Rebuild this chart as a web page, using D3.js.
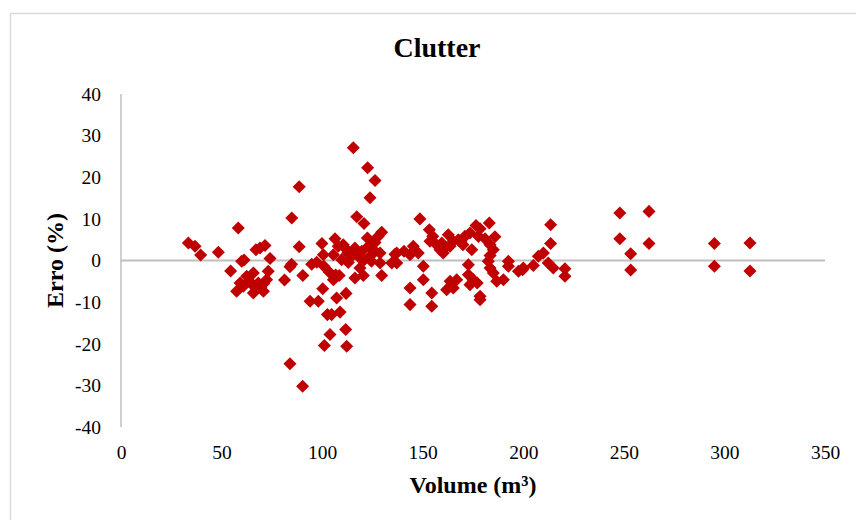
<!DOCTYPE html>
<html>
<head>
<meta charset="utf-8">
<script src="https://cdn.jsdelivr.net/npm/d3@7/dist/d3.min.js"></script>
<style>
  html, body { margin: 0; padding: 0; background: #ffffff; }
  svg { display: block; }
  text { font-family: "Liberation Serif", "Times New Roman", serif; fill: #000; }
</style>
</head>
<body>
<svg id="chart" width="856" height="520"></svg>
<script>
// ---- data ----
const title = "Clutter";
const xTitle = "Volume (m³)";
const yTitle = "Erro (%)";
const xTicks = [0, 50, 100, 150, 200, 250, 300, 350];
const yTicks = [-40, -30, -20, -10, 0, 10, 20, 30, 40];

const volume = [
  33.5, 36.8, 39.6, 48.4, 54.5, 57.5, 58.3, 59.2, 60.0, 60.8,
  61.2, 62.5, 63.8, 65.8, 65.8, 66.0, 67.1, 68.3, 69.1, 69.5,
  70.8, 71.0, 71.6, 72.4, 73.2, 74.1, 81.3, 84.0, 84.8, 84.9,
  84.0, 88.6, 88.6, 90.4, 90.3, 94.8, 94.0, 97.3, 98.1, 99.9,
  100.3, 100.6, 100.9, 101.1, 102.6, 103.6, 103.9, 104.7, 105.6, 105.6,
  106.4, 106.7, 107.2, 108.0, 108.5, 108.9, 109.7, 110.5, 111.7, 111.9,
  112.2, 112.2, 112.7, 113.0, 114.7, 115.5, 116.3, 116.3, 117.2, 117.5,
  118.8, 118.8, 119.7, 120.5, 120.8, 121.0, 122.5, 122.6, 123.0, 123.8,
  123.8, 124.5, 126.3, 126.3, 126.3, 127.9, 128.8, 128.8, 129.6, 129.6,
  134.6, 136.2, 137.1, 137.1, 140.7, 143.7, 143.7, 143.7, 145.3, 147.8,
  148.6, 150.3, 150.3, 153.3, 153.6, 154.5, 154.5, 155.0, 156.9, 158.6,
  159.5, 160.2, 161.0, 161.9, 162.7, 163.6, 163.6, 165.2, 165.2, 166.9,
  167.7, 169.0, 170.0, 171.0, 172.7, 172.7, 173.5, 173.5, 174.4, 175.2,
  176.5, 177.1, 177.7, 178.5, 178.5, 178.5, 181.0, 182.6, 183.1, 183.5,
  183.5, 183.5, 185.1, 185.1, 185.9, 186.8, 190.1, 192.6, 192.6, 197.6,
  199.7, 200.0, 205.0, 207.5, 210.0, 212.4, 213.6, 213.6, 214.9, 220.7,
  220.7, 248.0, 248.0, 253.4, 253.4, 262.5, 262.5, 295.0, 295.0, 312.7,
  312.7
];
const error = [
  4.2, 3.4, 1.3, 2.0, -2.5, -7.4, 7.8, -5.4, -0.2, -6.2,
  0.1, -3.8, -4.9, -3.0, -7.8, -6.2, 2.6, -5.4, 3.0, -6.5,
  -7.4, -5.5, 3.6, -4.6, -2.6, 0.5, -4.7, -1.5, -0.9, 10.2,
  -24.8, 17.7, 3.3, -3.6, -30.2, -0.9, -9.8, -0.4, -9.8, 4.1,
  -6.8, 1.4, -1.4, -20.4, -13.0, -2.8, -17.8, -13.0, -4.6, 1.4,
  5.2, -3.5, -9.0, 3.4, -3.6, -12.4, 0.2, 3.8, -16.6, -7.9,
  -20.6, 2.6, 1.8, -0.5, 1.0, 27.1, 3.0, -4.2, 10.5, 1.8,
  0.6, -1.8, 2.2, -3.6, 8.9, 0.2, 5.4, 22.3, 3.4, 15.1,
  1.0, -0.2, 19.2, 4.3, 2.2, 5.8, 1.8, -0.6, 6.8, -3.6,
  -0.6, 1.5, 1.8, -0.6, 2.2, 1.4, -6.6, -10.6, 3.4, 1.8,
  10.0, -1.4, -4.6, 7.4, 4.6, -7.8, -11.0, 5.8, 3.8, 2.6,
  4.2, 1.8, 3.0, -7.0, 6.2, 3.4, -5.0, 4.6, -6.6, -4.6,
  5.0, 4.6, 3.8, 5.8, -1.0, -3.4, 6.6, -5.8, 2.6, -4.6,
  8.4, -5.4, 5.8, 7.6, -8.6, -9.4, 5.2, -0.2, 9.0, 3.8,
  -1.8, 1.2, 2.6, -3.0, 5.7, -5.0, -4.6, -0.2, -1.4, -2.6,
  -2.2, -1.8, -1.2, 1.0, 1.8, -0.6, 8.6, 4.1, -1.8, -2.0,
  -3.8, 11.4, 5.2, 1.6, -2.3, 11.8, 4.1, 4.1, -1.4, 4.2,
  -2.5
];

// ---- chart ----
const svg = d3.select("#chart");
const x = d3.scaleLinear().domain([0, 350]).range([121, 825]);
const y = d3.scaleLinear().domain([-40, 40]).range([427, 94]);
const plainFormat = d => String(d);   // hyphen-minus, as in the reference

// outer frame
svg.append("rect")
  .attr("x", 10.5).attr("y", 13.5)
  .attr("width", 860).attr("height", 530)
  .attr("fill", "#fff").attr("stroke", "#D9D9D9").attr("stroke-width", 1.5);

// title
svg.append("text")
  .attr("x", 437).attr("y", 57)
  .attr("text-anchor", "middle")
  .style("font-size", "28px").style("font-weight", "bold")
  .text(title);

// y axis line
svg.append("line")
  .attr("x1", x(0)).attr("x2", x(0))
  .attr("y1", y(40)).attr("y2", y(-40))
  .attr("stroke", "#BFBFBF").attr("stroke-width", 1.5);

// zero line (horizontal axis)
svg.append("line")
  .attr("x1", x(0)).attr("x2", x(350))
  .attr("y1", y(0)).attr("y2", y(0))
  .attr("stroke", "#BFBFBF").attr("stroke-width", 2);

// y tick labels
const yAxis = svg.append("g")
  .attr("transform", `translate(${x(0)},0)`)
  .call(d3.axisLeft(y).tickValues(yTicks).tickSize(0).tickPadding(20).tickFormat(plainFormat));
yAxis.select(".domain").remove();
yAxis.selectAll("text")
  .style("font-family", "'Liberation Serif', serif")
  .style("font-size", "19.5px").attr("fill", "#000");

// x tick labels (placed below the plot)
const xAxis = svg.append("g")
  .attr("transform", `translate(0,${y(-40)})`)
  .call(d3.axisBottom(x).tickValues(xTicks).tickSize(0).tickPadding(0).tickFormat(plainFormat));
xAxis.select(".domain").remove();
xAxis.selectAll("text")
  .attr("y", 25).attr("dy", "0.35em")
  .style("font-family", "'Liberation Serif', serif")
  .style("font-size", "19.5px").attr("fill", "#000");

// axis titles
svg.append("text")
  .attr("x", (x(0) + x(350)) / 2).attr("y", 493)
  .attr("text-anchor", "middle")
  .style("font-size", "24px").style("font-weight", "bold")
  .text(xTitle);

svg.append("text")
  .attr("transform", `translate(63,${y(0)}) rotate(-90)`)
  .attr("text-anchor", "middle")
  .style("font-size", "24px").style("font-weight", "bold")
  .text(yTitle);

// points
const pts = volume.map((v, i) => ({ v, e: error[i] }));
const diamond = d3.symbol().type(d3.symbolSquare).size(85);
svg.append("g").selectAll("path")
  .data(pts)
  .join("path")
  .attr("d", diamond)
  .attr("transform", d => `translate(${x(d.v)},${y(d.e)}) rotate(45)`)
  .attr("fill", "#C00000");
</script>
</body>
</html>
